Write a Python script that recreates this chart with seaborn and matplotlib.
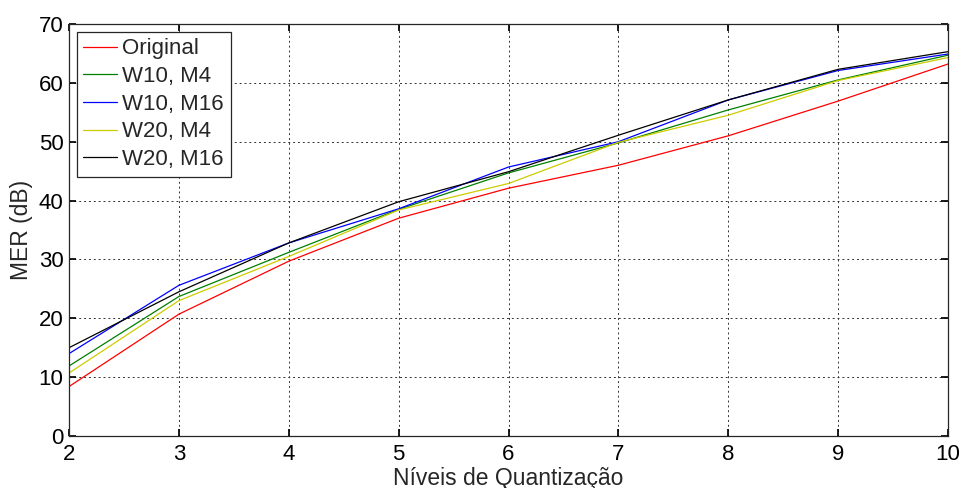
import pandas as pd
import matplotlib
matplotlib.use("Agg")
import matplotlib.pyplot as plt
import seaborn as sns

# niveis de quantizacao
niveis = [2, 3, 4, 5, 6, 7, 8, 9, 10]

# MER (dB)
original = [8.4, 20.7, 29.7, 37.0, 42.1, 46.0, 51.0, 56.9, 63.2]
w10_m4 = [11.9, 23.7, 31.2, 38.5, 44.7, 49.8, 55.4, 60.5, 64.7]
w10_m16 = [14.0, 25.6, 32.8, 38.6, 45.7, 50.0, 57.1, 62.1, 64.9]
w20_m4 = [10.7, 23.0, 30.5, 38.4, 42.9, 49.9, 54.5, 60.4, 64.3]
w20_m16 = [15.0, 24.5, 32.8, 39.8, 44.9, 51.1, 57.1, 62.3, 65.3]

nomes = ['Original', 'W10, M4', 'W10, M16', 'W20, M4', 'W20, M16']
cores = ['#ff0000', '#008000', '#0000ff', '#cccc00', '#000000']

series = [original, w10_m4, w10_m16, w20_m4, w20_m16]
rows = []
for nome, vals in zip(nomes, series):
    for x, y in zip(niveis, vals):
        rows.append({'nivel': x, 'mer': y, 'curva': nome})
df = pd.DataFrame(rows)

sns.set_theme(style="white")
plt.rcParams['font.family'] = ['Liberation Sans', 'DejaVu Sans']

fig = plt.figure(figsize=(9.63, 4.88), dpi=100)
ax = fig.add_axes([0.0717, 0.1066, 0.9127, 0.8442])

sns.lineplot(data=df, x='nivel', y='mer', hue='curva', hue_order=nomes,
             palette=dict(zip(nomes, cores)), linewidth=0.9, ax=ax)

ax.set_xlim(2, 10)
ax.set_ylim(0, 70)
ax.set_xticks(niveis)
ax.set_yticks(range(0, 71, 10))
ax.grid(True, color='#333333', linestyle=(0, (2, 3)), linewidth=0.7)
ax.tick_params(direction='in', length=5, labelsize=16, colors='black',
               top=True, right=True, bottom=True, left=True)
ax.tick_params(axis='x', pad=6)
ax.tick_params(axis='y', pad=4)
for s in ax.spines.values():
    s.set_color('#262626')
    s.set_linewidth(0.9)

ax.set_xlabel('Níveis de Quantização', fontsize=16.5, labelpad=1)
ax.set_ylabel('MER (dB)', fontsize=16.5, labelpad=4)

leg = ax.legend(loc='upper left', fontsize=16, frameon=True, fancybox=False,
                handlelength=1.5, handletextpad=0.25, labelspacing=0.3,
                borderpad=0.3, borderaxespad=0.35)
leg.get_frame().set_edgecolor('#262626')
leg.get_frame().set_linewidth(0.9)
leg.get_frame().set_alpha(1)

plt.savefig("out.png", dpi=100)
